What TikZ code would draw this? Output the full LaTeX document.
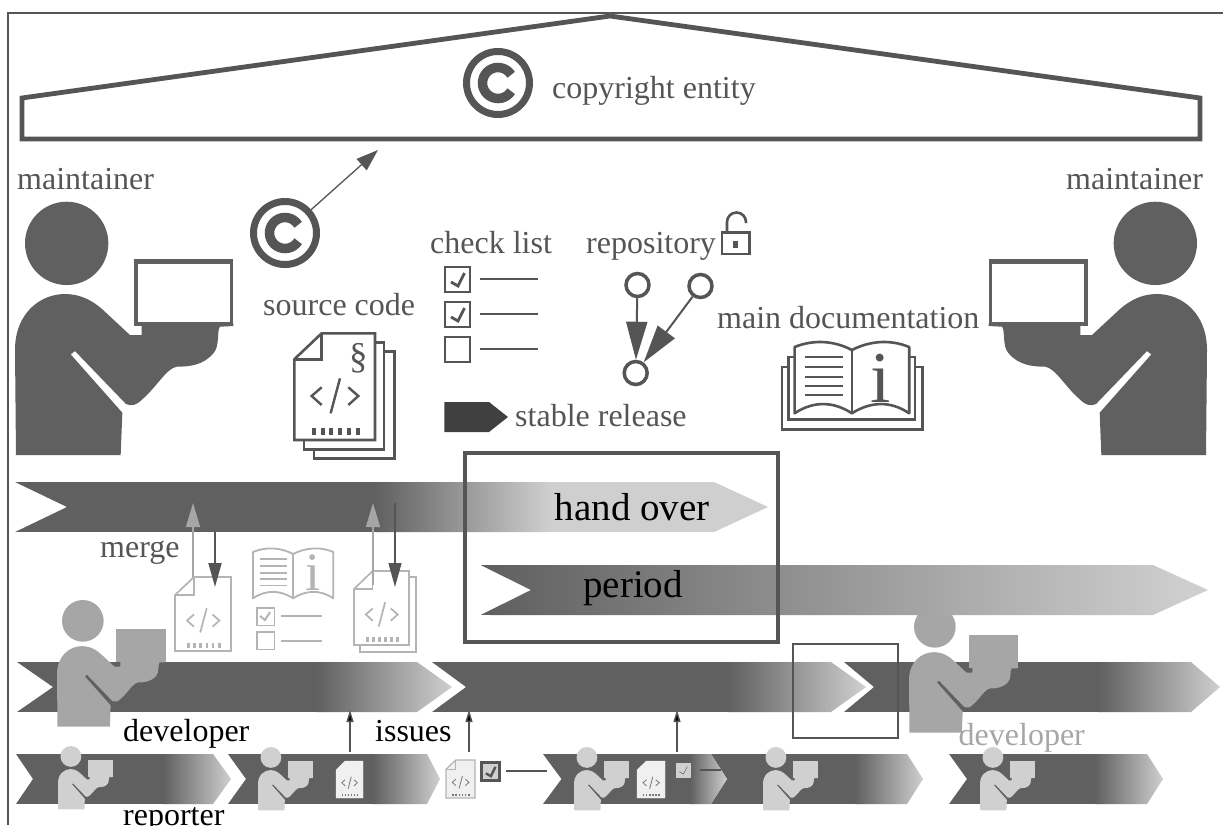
\documentclass[tikz,border=0pt]{standalone}
\usepackage{fontspec}
\setmainfont{Liberation Serif}
\usetikzlibrary{arrows.meta}
\definecolor{dk}{HTML}{606060}
\definecolor{tx}{HTML}{555555}
\definecolor{lt}{HTML}{CFCFCF}
\definecolor{fade}{HTML}{B4B4B4}
\definecolor{devc}{HTML}{A6A6A6}
\definecolor{repc}{HTML}{D0D0D0}
\tikzset{
  lab/.style={anchor=base west,inner sep=0pt,text=tx,font=\fontsize{32}{32}\selectfont},
  blk/.style={lab,text=black},
  big/.style={lab,text=black,font=\fontsize{39}{39}\selectfont},
  upfade/.style={draw=devc,line width=1.5pt,-{Triangle[length=24pt,width=14pt]}},
  downdark/.style={draw=tx,line width=1.8pt,-{Triangle[length=24pt,width=13pt]}},
  upblack/.style={draw=tx,line width=1.4pt,-{Triangle[length=12pt,width=7pt,fill=black]}},
  repoarrow/.style={draw=tx,line width=2pt,-{Triangle[length=38pt,width=21pt]}},
  repocircle/.style={circle,draw=tx,line width=3.5pt,minimum size=23pt,inner sep=0pt}
}
% person: left/top, scale, direction, colour, box inner colour
\newcommand\person[6]{%
\begin{scope}[shift={(#1,#2)},xscale=#4*#3/3,yscale=#3/3,shift={(-45,-155)}]
 \fill[#5] (200,280) circle[radius=125];
 \fill[#5] (48,915) -- (45,600) .. controls (45,490) and (120,432) .. (195,432)
  .. controls (250,432) and (290,460) .. (320,490) -- (390,555) -- (425,555) -- (425,520) -- (700,520)
  -- (700,528) -- (660,530) .. controls (650,540) and (660,590) .. (640,610)
  .. controls (610,645) and (570,650) .. (530,650) .. controls (500,655) and (470,710) .. (430,745)
  .. controls (410,765) and (395,770) .. (378,762) -- (225,603) -- (212,613) -- (367,788) -- (362,915) -- cycle;
 \fill[#5] (402,328) rectangle (700,528);
 \fill[#6] (414,343) rectangle (690,515);
\end{scope}}
% ribbon: x0, notch, shoulder, tip, top, bottom, gradient start, gradient end
\newcommand\ribbon[8]{%
\begin{scope}
 \clip (#1,#5) -- (#3,#5) -- (#4,{(#5+#6)/2}) -- (#3,#6) -- (#1,#6) -- (#2,{(#5+#6)/2}) -- cycle;
 \fill[dk] (#1,#5) rectangle (#7+0.5,#6);
 \shade[left color=dk,right color=lt,shading=axis] (#7,#5) rectangle (#8,#6);
 \fill[lt] (#8-0.5,#5) rectangle (#4,#6);
\end{scope}}
% doc page: left, top, width, height, stroke, lw, fill, code colour, code lw
\newcommand\docpage[9]{%
\begin{scope}[shift={(#1,#2)},xscale=#3/242,yscale=#4/320]
 \path[draw=#5,fill=#7,line width=#6pt,line join=miter] (0,78) -- (82,0) -- (242,0) -- (242,320) -- (0,320) -- cycle;
 \draw[#5,line width=#6pt] (82,0) -- (82,78) -- (0,78);
 \draw[#8,line width=#9pt] (82,162) -- (52,188) -- (82,215) (137,135) -- (109,240) (162,162) -- (192,188) -- (162,215);
 \foreach \i in {0,...,5} {\fill[#8] ({52+26.6*\i},285) rectangle ++(12,20);}
\end{scope}}
% open book: left, top, scale, colour, lw
\newcommand\bookopen[5]{%
\begin{scope}[shift={(#1,#2)},scale=#3]
 \draw[#4,line width=#5pt,line join=round] (0,7) .. controls (20,-1) and (40,1) .. (57.3,10) .. controls (75,1) and (95,-1) .. (114.6,7)
   -- (114.6,73.3) .. controls (95,60) and (75,62) .. (57.3,73.3) .. controls (40,62) and (20,60) .. (0,73.3) -- cycle;
 \draw[#4,line width=#5pt] (57.3,10) -- (57.3,73.3);
 \foreach \y in {17,27,37,46,55} {\draw[#4,line width=#5pt] (10,\y) -- (48,\y);}
\end{scope}}
\newcommand\crsym[3]{%
 \node[circle,minimum size=70pt,inner sep=0pt] (#1) at (#2,#3) {};
 \draw[tx,line width=7pt] (#2,#3) circle[radius=31.5];
 \draw[tx,line width=9.5pt] (#2,#3) +(32:15.5) arc[start angle=32,end angle=328,radius=15.5];}
% check box: left, top, size, colour, lw, fill, checked(1/0)
\newcommand\chkbox[7]{%
\begin{scope}[shift={(#1,#2)},scale=#3/25]
 \path[draw=#4,fill=#6,line width=#5pt] (0,0) rectangle (25,25);
 \ifnum#7=1 \draw[tx,line width=#5pt] (6,15) -- (13,19) -- (19.5,6);\fi
\end{scope}}
\begin{document}
\begin{tikzpicture}[x=1pt,y=-1pt]
\useasboundingbox (0,0) rectangle (1223,825);
\clip (0,0) rectangle (1223,825);
\fill[white] (0,0) rectangle (1223,825);
% frame
\coordinate (fa) at (1223,13); \coordinate (fb) at (8,13); \coordinate (fc) at (8,825);
\draw[tx,line width=1.2pt] (fa) -- (fb) -- (fc);
% house
\draw[tx,line width=4.8pt,line join=miter] (22,98) -- (610,16) -- (1200,98) -- (1200,139) -- (22,139) -- cycle;
\crsym{crtop}{498}{83}
\node[lab] (tcopy) at (552,98) {copyright entity};
% maintainers
\node[lab] (tml) at (17,189) {maintainer};
\node[lab] (tmr) at (1066,189) {maintainer};
\person{15}{201.7}{1}{1}{dk}{white}
\person{1207}{201.7}{1}{-1}{dk}{white}
% copyright + arrow
\crsym{crmid}{285}{233}
\coordinate (crtip) at (378,150);
\draw[tx,line width=1.3pt,-{Triangle[length=22pt,width=15pt]}] (crmid) -- (crtip);
% source code stack
\node[lab] (tsrc) at (263,315) {source code};
\draw[tx,line width=2.6pt] (375,342.3) -- (384,342.3) -- (384,449.3) -- (304,449.3) -- (304,440);
\draw[tx,line width=2.6pt] (384,351.3) -- (394.3,351.3) -- (394.3,458.7) -- (314,458.7) -- (314,449.3);
\docpage{294.3}{333.3}{80.7}{106.7}{tx}{2.6}{white}{tx}{2.4}
\node[inner sep=0pt,text=tx,font=\fontsize{37}{37}\selectfont] (tsec) at (358.3,358.3) {§};
% check list
\node[lab] (tchk) at (430,253) {check list};
\chkbox{445}{267}{25}{tx}{2.8}{white}{1}
\chkbox{445}{302}{25}{tx}{2.8}{white}{1}
\chkbox{445}{337}{25}{tx}{2.8}{white}{0}
\draw[tx,line width=2.8pt] (480,279) -- (538,279) (480,314) -- (538,314) (480,349) -- (538,349);
% repository
\node[lab] (trep) at (586,253) {repository};
\draw[tx,line width=2.6pt] (722,232.5) rectangle (749.5,254);
\fill[tx] (732.5,241) rectangle (738,248);
\draw[tx,line width=2.6pt] (727,232.5) -- (727,222) arc[start angle=180,end angle=360,radius=9.5] -- (746,223);
\node[repocircle] (c1) at (637.5,285) {};
\node[repocircle] (c2) at (700.5,286) {};
\node[repocircle] (c3) at (635.7,373) {};
\draw[repoarrow] (c1) -- (c3);
\draw[repoarrow] (c2) -- (c3);
% stable release
\fill[black!75] (444.3,402) -- (489,402) -- (508,417) -- (489,432) -- (444.3,432) -- cycle;
\node[lab] (tsta) at (515,426) {stable release};
% main doc
\node[lab] (tdoc) at (717,328) {main documentation};
\bookopen{794.6}{340}{1}{tx}{2.6}
\draw[tx,line width=2.6pt] (794.6,357) -- (788.5,357) -- (788.5,419.5) -- (915,419.5) -- (915,357) -- (909.2,357);
\draw[tx,line width=2.6pt] (788.5,367) -- (782,367) -- (782,429.5) -- (922.5,429.5) -- (922.5,367) -- (915,367);
\node[anchor=base,inner sep=0pt,text=tx,font=\fontsize{73}{73}\selectfont] (ti) at (880.4,402) {i};
% main ribbon
\ribbon{15}{67}{714}{768}{482}{532}{375}{550}
% middle row
\ribbon{17}{53}{417}{452}{662}{712}{317}{452}
\ribbon{432}{466}{831}{866}{662}{712}{728}{866}
\ribbon{844}{874}{1191}{1220}{662}{712}{1098}{1220}
% bottom row
\ribbon{16}{33}{213}{231}{754}{804}{163}{231}
\ribbon{228}{246}{427}{440}{754}{804}{373}{440}
\ribbon{711}{727}{907}{923}{754}{804}{855}{923}
\ribbon{543}{561.5}{711}{727}{754}{804}{690}{727}
\ribbon{949}{967}{1147}{1163}{754}{804}{1095}{1163}
% thin box
\draw[tx,line width=1.4pt] (793,644) rectangle (898,738);
% developers
\person{57}{600}{0.5}{1}{devc}{devc}
\person{909}{606}{0.5}{1}{devc}{devc}
% period ribbon over head
\ribbon{480.5}{531}{1153}{1208}{565}{615}{490}{1190}
% faded icons
\docpage{175}{577}{56}{74}{fade}{1.7}{white}{fade}{1.7}
\draw[fade,line width=1.7pt] (409,577) -- (416,577) -- (416,652) -- (360,652) -- (360,645);
\docpage{354}{571}{55}{74}{fade}{1.7}{white}{fade}{1.7}
\bookopen{253}{547}{0.7}{fade}{1.8}
\node[anchor=base,inner sep=0pt,text=fade,font=\fontsize{54}{54}\selectfont] (tif) at (313,590) {i};
\chkbox{257}{608}{17.5}{fade}{1.8}{white}{0}
\draw[fade,line width=2pt] (260,616) -- (265,620) -- (270,612);
\chkbox{257}{632}{17.5}{fade}{1.8}{white}{0}
\draw[fade,line width=1.8pt] (281,616) -- (322,616) (281,641) -- (322,641);
% merge arrows
\node[lab] (tmrg) at (100,557) {merge};
\coordinate (ua) at (193,577); \coordinate (ub) at (193,503);
\coordinate (da) at (215,532); \coordinate (db) at (215,587);
\coordinate (uc) at (373,585); \coordinate (ud) at (373,503);
\coordinate (dc) at (395,503); \coordinate (dd) at (395,587);
\draw[upfade] (ua) -- (ub);
\draw[downdark] (da) -- (db);
\draw[upfade] (uc) -- (ud);
\draw[draw=tx,line width=1.2pt,-{Triangle[length=24pt,width=13pt]}] (dc) -- (dd);
% bottom docs
\docpage{336}{761}{27}{37}{black!6}{0.4}{black!6}{tx!80}{0.8}
\docpage{446}{760}{29}{38}{fade}{1.2}{black!6}{tx!80}{0.8}
\docpage{637}{761}{28}{37}{black!6}{0.4}{black!6}{tx!80}{0.8}
\chkbox{481.5}{762.5}{18}{tx}{2.4}{repc}{1}
\chkbox{676}{763}{14.5}{repc}{0.5}{repc}{1}
\draw[tx,line width=2pt] (506,771) -- (547,771);
\draw[tx,line width=2pt] (700,770) -- (721,770);
% black arrows
\coordinate (i1a) at (350,752); \coordinate (i1b) at (350,710);
\coordinate (i2a) at (469,752); \coordinate (i2b) at (469,710);
\coordinate (i3a) at (677,752); \coordinate (i3b) at (677,710);
\draw[upblack] (i1a) -- (i1b);
\draw[upblack] (i2a) -- (i2b);
\draw[upblack] (i3a) -- (i3b);
% reporters
\person{58}{746}{0.25}{1}{repc}{repc}
\person{258}{747}{0.25}{1}{repc}{repc}
\person{574}{747}{0.25}{1}{repc}{repc}
\person{763}{747}{0.25}{1}{repc}{repc}
\person{980}{747}{0.25}{1}{repc}{repc}
% labels
\node[big] (thand) at (554.5,520) {hand over};
\node[big] (tper) at (583,597) {period};
\node[blk] (tdev) at (123,741) {developer};
\node[blk] (tiss) at (375,741) {issues};
\node[blk] (trpt) at (123,825) {reporter};
\node[lab,text=devc] (tdev2) at (958.5,745) {developer};
% hand-over box
\draw[tx,line width=3.5pt] (465,453) rectangle (778,642);
\end{tikzpicture}
\end{document}
